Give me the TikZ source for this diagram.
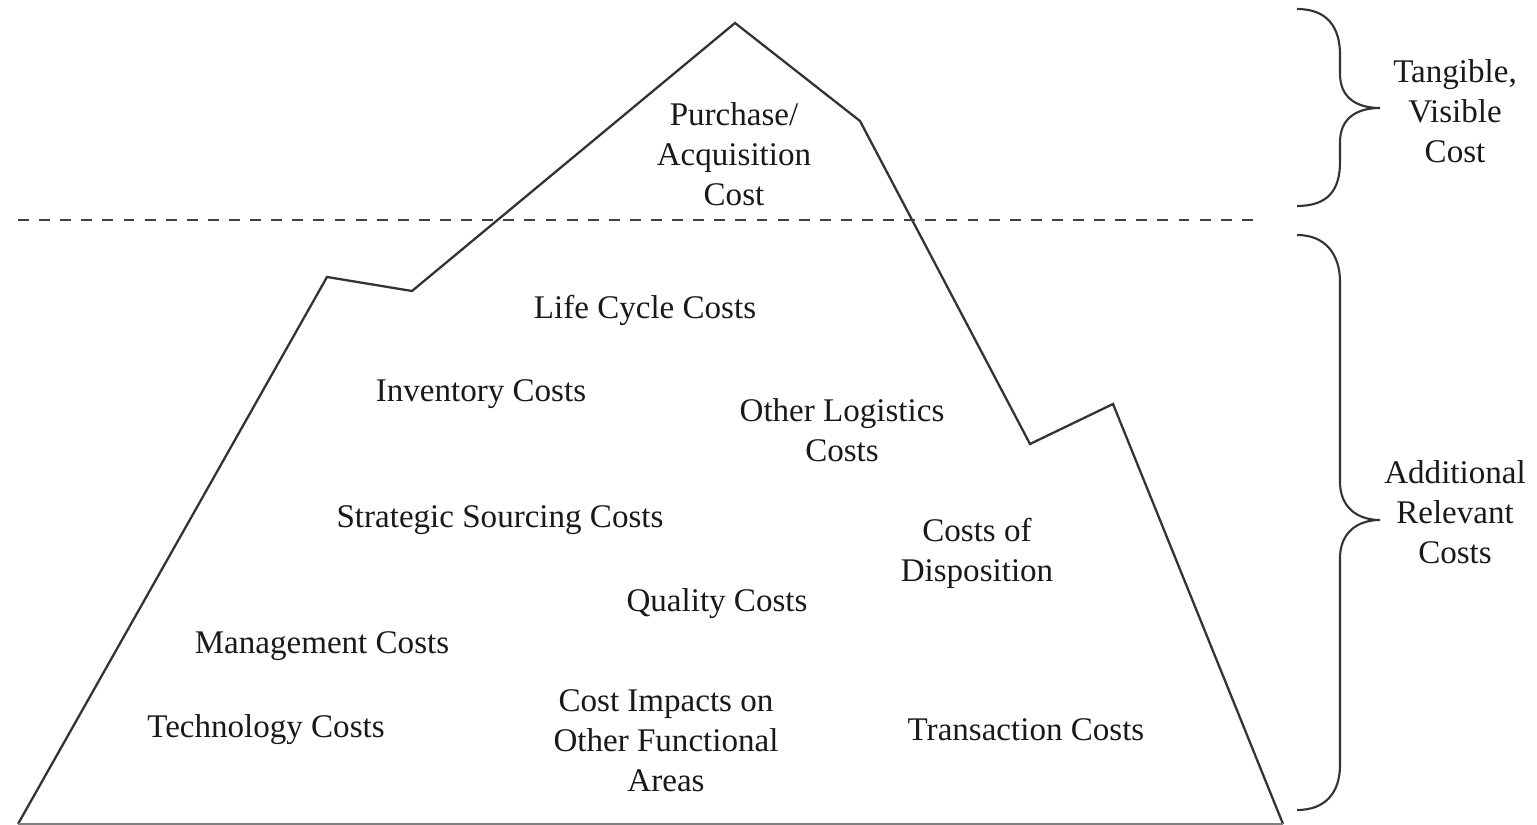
\documentclass[tikz,border=0pt]{standalone}
\usepackage{fontspec}
\setmainfont{Liberation Serif}
\begin{document}
\begin{tikzpicture}[x=0.01cm,y=-0.01cm,
  outline/.style={draw=black!80,line width=0.65pt,line join=miter},
  lbl/.style={align=center,font=\fontsize{9.4}{11.4}\selectfont,inner sep=0pt,text=black!90},
  bracepath/.style={draw=black!80,line width=0.6pt}]
\useasboundingbox (0,0) rectangle (1537,825);
% iceberg
\draw[outline] (18,824) -- (327,277) -- (412,291) -- (735,23) -- (860,121) -- (1030,444) -- (1113,404) -- (1283,824);
\draw[draw=black!50,line width=0.6pt] (18,824) -- (1283,824);
% waterline
\draw[draw=black!75,line width=0.75pt,dash pattern=on 3.1pt off 2.9pt] (18,220) -- (1255,220);
% braces
\draw[bracepath] (1297,9) .. controls (1328,9) and (1340,28) .. (1340,55) -- (1340,74) .. controls (1340,98) and (1357,108) .. (1380,108) .. controls (1357,108) and (1340,118) .. (1340,142) -- (1340,162) .. controls (1340,190) and (1328,206) .. (1297,206);
\draw[bracepath] (1297,235) .. controls (1326,235) and (1340,255) .. (1340,282) -- (1340,482) .. controls (1340,507) and (1357,520) .. (1380,520) .. controls (1357,520) and (1340,533) .. (1340,558) -- (1340,765) .. controls (1340,792) and (1326,810) .. (1297,810);
% labels
\node[lbl] (purchase) at (734,154) {Purchase/\\Acquisition\\Cost};
\node[lbl] (life) at (645,310) {Life Cycle Costs};
\node[lbl] (inventory) at (481,394) {Inventory Costs};
\node[lbl] (logistics) at (842,430) {Other Logistics\\Costs};
\node[lbl] (strategic) at (500,520) {Strategic Sourcing Costs};
\node[lbl] (disposition) at (977,553) {Costs of\\Disposition};
\node[lbl] (quality) at (717,604) {Quality Costs};
\node[lbl] (management) at (322,646) {Management Costs};
\node[lbl] (technology) at (266,730) {Technology Costs};
\node[lbl] (impacts) at (666,741) {Cost Impacts on\\Other Functional\\Areas};
\node[lbl] (transaction) at (1026,730) {Transaction Costs};
\node[lbl] (tangible) at (1455,111) {Tangible,\\Visible\\Cost};
\node[lbl] (additional) at (1455,512) {Additional\\Relevant\\Costs};
\end{tikzpicture}
\end{document}
